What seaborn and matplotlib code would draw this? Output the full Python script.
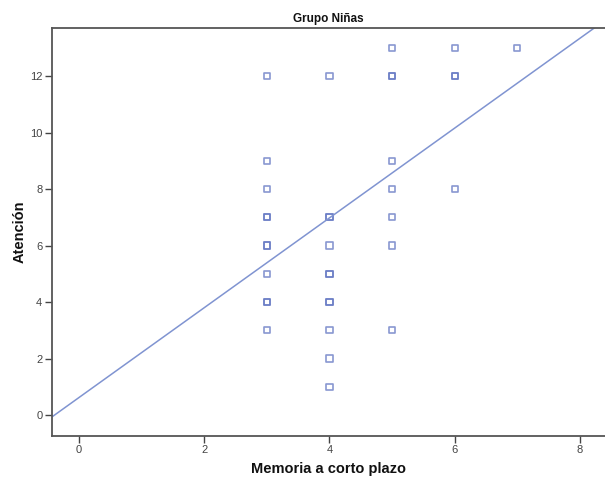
import matplotlib
matplotlib.use("Agg")
import matplotlib.pyplot as plt
import seaborn as sns
import pandas as pd

# Data (repeated pairs = darker overlapping markers)
memoria = [3, 3, 3, 3, 3, 3, 3, 3, 3, 3, 3,
           4, 4, 4, 4, 4, 4, 4, 4, 4, 4, 4,
           5, 5, 5, 5, 5, 5, 5, 5,
           6, 6, 6, 6,
           7]
atencion = [12, 9, 8, 7, 7, 6, 6, 5, 4, 4, 3,
            12, 7, 7, 6, 5, 5, 4, 4, 3, 2, 1,
            13, 12, 12, 9, 8, 7, 6, 3,
            13, 12, 12, 8,
            13]
# Fit line coefficients
fit_intercept = 0.62
fit_slope = 1.59

x_ticks = [0, 2, 4, 6, 8]
y_ticks = [0, 2, 4, 6, 8, 10, 12]

df = pd.DataFrame({"Memoria a corto plazo": memoria, "Atención": atencion})

sns.set_style("white")
plt.rcParams["font.family"] = ["Liberation Sans", "DejaVu Sans"]

fig = plt.figure(figsize=(6.05, 4.83), dpi=100)
ax = fig.add_axes([0.086, 0.098, 0.914, 0.845])

sns.scatterplot(data=df, x="Memoria a corto plazo", y="Atención", ax=ax,
                marker="s", s=20, facecolor="none",
                edgecolor=(0.38, 0.46, 0.76, 0.75), linewidth=1.2)
ax.axline((0, fit_intercept), slope=fit_slope, color=(0.50, 0.58, 0.82),
          linewidth=1.1, zorder=1)

ax.set_xlim(-0.43, 8.4)
ax.set_ylim(-0.73, 13.72)
ax.set_xticks(x_ticks)
ax.set_yticks(y_ticks)

for side in ["left", "bottom", "top"]:
    ax.spines[side].set_color("#555555")
    ax.spines[side].set_linewidth(1.3)
ax.spines["right"].set_visible(False)

ax.tick_params(axis="both", direction="out", length=5, width=1.0,
               color="#444444", labelsize=8, labelcolor="#444444",
               bottom=True, left=True, pad=2)

ax.set_xlabel("Memoria a corto plazo", fontsize=10.5, fontweight="bold",
              color="#111111", labelpad=5)
ax.set_ylabel("Atención", fontsize=10.5, fontweight="bold",
              color="#111111", labelpad=2)
ax.set_title("Grupo Niñas", fontsize=8.5, fontweight="bold",
             color="#111111", pad=4)

fig.savefig("out.png", dpi=100)
